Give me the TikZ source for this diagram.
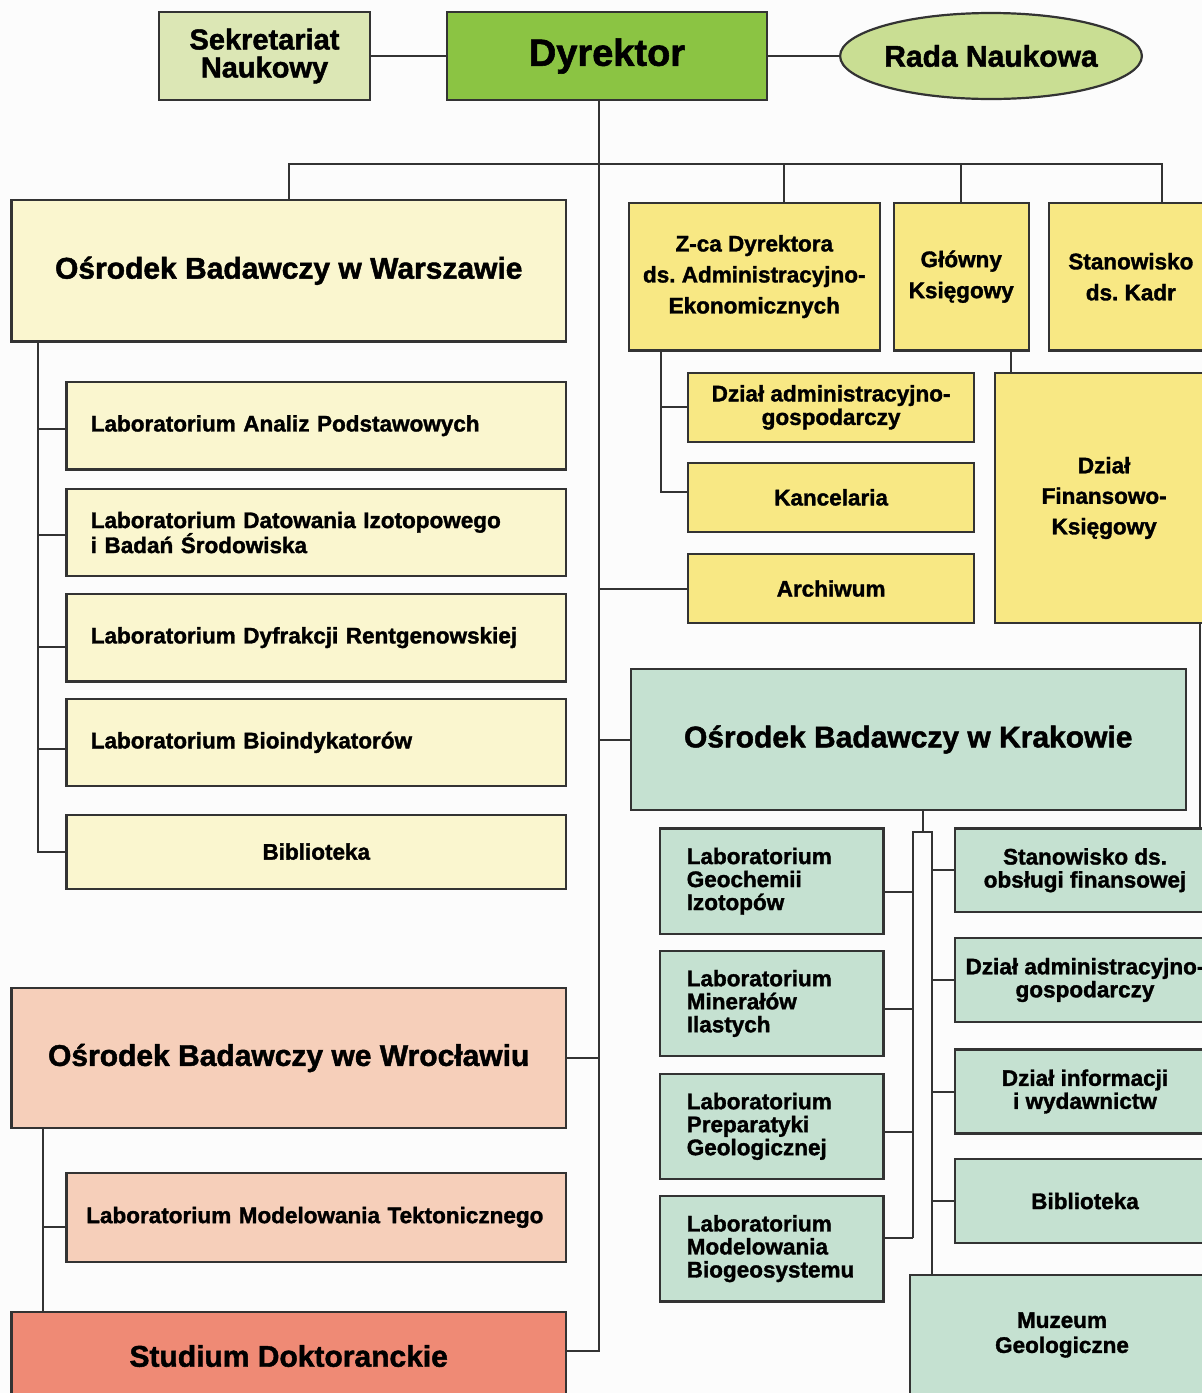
\documentclass[tikz,border=0pt]{standalone}
\usepackage{fontspec}
\setmainfont{Liberation Sans}[BoldFeatures={FakeBold=1.5}]
\usetikzlibrary{shapes.geometric}
\frenchspacing
\definecolor{bgc}{HTML}{FCFCFC}
\definecolor{bordc}{HTML}{333333}
\definecolor{sekc}{HTML}{DCE7B5}
\definecolor{dyrc}{HTML}{8BC443}
\definecolor{radac}{HTML}{C9DE93}
\definecolor{palec}{HTML}{FAF6CF}
\definecolor{yelc}{HTML}{F8E884}
\definecolor{krakc}{HTML}{C5E1D1}
\definecolor{wroc}{HTML}{F6CFBA}
\definecolor{studc}{HTML}{EF8A75}
\begin{document}
\begin{tikzpicture}[x=1pt,y=-1pt,
  box/.style={draw=bordc, line width=2.2pt, rectangle, inner sep=0pt, align=center,
    font=\fontsize{22.5}{23.5}\selectfont\bfseries},
  big/.style={font=\fontsize{30}{32}\selectfont\bfseries},
  wide/.style={font=\fontsize{22.5}{31}\selectfont\bfseries},
  conn/.style={draw=bordc, line width=2pt}]
\clip (0,0) rectangle (1202,1393);
\fill[bgc] (0,0) rectangle (1202,1393);

% top row
\node[box, fill=sekc, minimum width=211, minimum height=88, font=\fontsize{29}{28}\selectfont\bfseries] (sek) at (264.5,56) {Sekretariat\\Naukowy};
\node[box, fill=dyrc, minimum width=320, minimum height=88, font=\fontsize{38}{40}\selectfont\bfseries] (dyr) at (607,56) {Dyrektor};
\node[box, ellipse, fill=radac, minimum width=290, minimum height=86, big] (rada) at (991,56) {Rada Naukowa};

% second row
\node[box, fill=palec, minimum width=554.5, minimum height=141.5, big] (war) at (288.75,270.75) {Ośrodek Badawczy w Warszawie};
\node[box, fill=yelc, minimum width=251.4, minimum height=147.8, wide] (zca) at (754.3,276.6) {Z-ca Dyrektora\\ds. Administracyjno-\\Ekonomicznych};
\node[box, fill=yelc, minimum width=134.9, minimum height=147.5, wide] (glo) at (961.25,276.75) {Główny\\Księgowy};
\node[box, fill=yelc, minimum width=164.3, minimum height=147.5, wide] (kadr) at (1130.85,276.75) {Stanowisko\\ds. Kadr};

% Warszawa labs
\tikzset{wlab/.style={box, fill=palec, minimum width=499.8, text width=451, align=left, font=\fontsize{22.5}{25}\selectfont\bfseries}}
\node[wlab, minimum height=87.7] (wl1) at (316.3,425.65) {Laboratorium Analiz Podstawowych};
\node[wlab, minimum height=87] (wl2) at (316.3,532.5) {Laboratorium Datowania Izotopowego\\i Badań Środowiska};
\node[wlab, minimum height=87.7] (wl3) at (316.3,637.65) {Laboratorium Dyfrakcji Rentgenowskiej};
\node[wlab, minimum height=87.1] (wl4) at (316.3,742.45) {Laboratorium Bioindykatorów};
\node[box, fill=palec, minimum width=499.8, minimum height=74] (wbib) at (316.3,851.6) {Biblioteka};

% admin column
\node[box, fill=yelc, minimum width=285.6, minimum height=68.7] (adm) at (831.1,407.35) {Dział administracyjno-\\gospodarczy};
\node[box, fill=yelc, minimum width=285.6, minimum height=68.7] (kanc) at (831.1,497.35) {Kancelaria};
\node[box, fill=yelc, minimum width=285.6, minimum height=69] (arch) at (831.1,588.5) {Archiwum};
\node[box, fill=yelc, minimum width=217.7, minimum height=250, font=\fontsize{22.5}{30.5}\selectfont\bfseries] (fin) at (1104.15,498) {Dział\\Finansowo-\\Księgowy};

% Krakow
\node[box, fill=krakc, minimum width=554.9, minimum height=141, big] (krak) at (908.25,739.5) {Ośrodek Badawczy w Krakowie};
\tikzset{klab/.style={box, fill=krakc, minimum width=223.5, text width=170, align=left, font=\fontsize{22.5}{23}\selectfont\bfseries}}
\node[klab, minimum height=105.5] (kl1) at (771.75,881.25) {Laboratorium\\Geochemii\\Izotopów};
\node[klab, minimum height=105.2] (kl2) at (771.75,1003.4) {Laboratorium\\Minerałów\\Ilastych};
\node[klab, minimum height=105.2] (kl3) at (771.75,1126.4) {Laboratorium\\Preparatyki\\Geologicznej};
\node[klab, minimum height=105.7] (kl4) at (771.75,1248.65) {Laboratorium\\Modelowania\\Biogeosystemu};
\tikzset{krbox/.style={box, fill=krakc, minimum width=260, minimum height=84, font=\fontsize{22.5}{23}\selectfont\bfseries}}
\node[krbox, minimum height=83.5] (kr1) at (1085,870.25) {Stanowisko ds.\\obsługi finansowej};
\node[krbox] (kr2) at (1085,980) {Dział administracyjno-\\gospodarczy};
\node[krbox] (kr3) at (1085,1091.5) {Dział informacji\\i wydawnictw};
\node[krbox] (kr4) at (1085,1201) {Biblioteka};
\node[box, fill=krakc, minimum width=304, minimum height=120, font=\fontsize{22.5}{25}\selectfont\bfseries] (muz) at (1062,1335) {Muzeum\\Geologiczne};

% Wroclaw, Studium
\node[box, fill=wroc, minimum width=554.6, minimum height=140.6, big] (wro) at (288.7,1058) {Ośrodek Badawczy we Wrocławiu};
\node[box, fill=wroc, minimum width=499.5, minimum height=88.7, text width=460, align=left] (tekt) at (316.25,1217.35) {Laboratorium Modelowania Tektonicznego};
\node[box, fill=studc, minimum width=554.6, minimum height=88.6, big] (stud) at (288.7,1356) {Studium Doktoranckie};

% helper coordinates
\coordinate (tx) at (598.7,0);
\coordinate (bus) at (0,164);
\coordinate (zd) at (784,0);
\coordinate (kd) at (1162,0);
\coordinate (wx) at (38.4,0);
\coordinate (rx) at (43,0);
\coordinate (zx) at (660.5,0);
\coordinate (gx) at (1011,0);
\coordinate (vx) at (1200,0);
\coordinate (ks) at (923,831.7);
\coordinate (kl) at (913,831.7);
\coordinate (kr) at (932,831.7);

% connectors
\draw[conn] (sek.east) -- (dyr.west);
\draw[conn] (dyr.east) -- (rada.west);
\draw[conn] (dyr.south -| tx) |- ([yshift=5pt]stud.east);
\draw[conn] (war.north) |- (kd |- bus) -- (kd |- kadr.north);
\draw[conn] (zd |- bus) -- (zd |- zca.north);
\draw[conn] (glo.north) -- (glo.north |- bus);
\draw[conn] (tx |- arch.west) -- (arch.west);
\draw[conn] (tx |- krak.west) -- (krak.west);
\draw[conn] (tx |- wro.east) -- (wro.east);

\draw[conn] (war.south -| wx) |- (wbib.west);
\path ([yshift=-3.4pt]wl1.west) coordinate (w1c)
      ([yshift=-2.1pt]wl2.west) coordinate (w2c)
      ([yshift=-9.8pt]wl3.west) coordinate (w3c)
      ([yshift=-6.4pt]wl4.west) coordinate (w4c);
\foreach \c in {w1c,w2c,w3c,w4c} {\draw[conn] (\c) -- (\c -| wx);}

\draw[conn] (zca.south -| zx) |- ([yshift=5.3pt]kanc.west);
\draw[conn] (adm.west) -- (adm.west -| zx);
\draw[conn] (glo.south -| gx) -- (fin.north -| gx);
\draw[conn] (fin.south -| vx) -- (kr1.north -| vx);

\path ([yshift=-10.7pt]kl1.east) coordinate (k1c)
      ([yshift=-5.6pt]kl2.east) coordinate (k2c)
      ([yshift=-5.1pt]kl3.east) coordinate (k3c)
      ([yshift=10.6pt]kl4.east) coordinate (k4c);
\draw[conn] (krak.south -| ks) -- (ks);
\draw[conn] (k4c -| kl) -- (kl) -- (kr) -- (muz.north -| kr);
\foreach \c in {k1c,k2c,k3c,k4c} {\draw[conn] (\c) -- (\c -| kl);}
\foreach \n in {kr1,kr2,kr3,kr4} {\draw[conn] (\n.west) -- (\n.west -| kr);}

\draw[conn] (wro.south -| rx) -- (stud.north -| rx);
\path ([yshift=-9.6pt]tekt.west) coordinate (tc);
\draw[conn] (tc) -- (tc -| rx);
\end{tikzpicture}
\end{document}
